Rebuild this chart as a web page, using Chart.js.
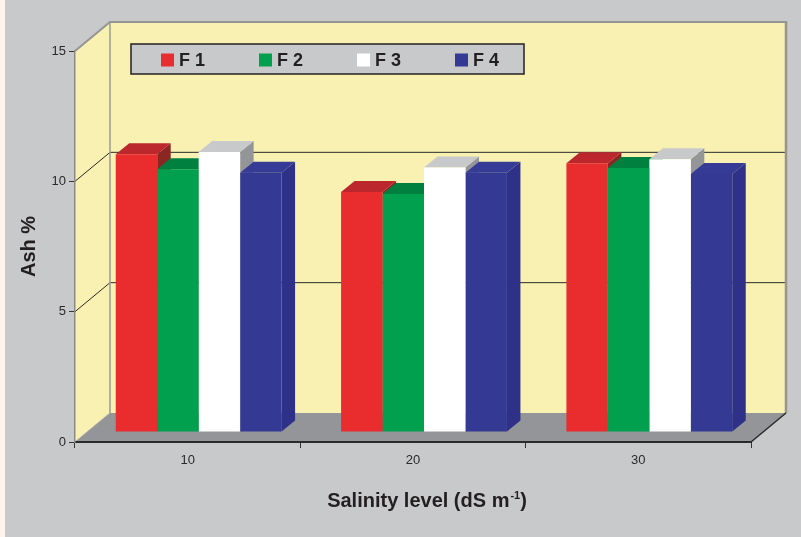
<!DOCTYPE html>
<html lang="en">
  <head>
    <meta charset="UTF-8" />
    <title>Ash %</title>
    <script src="https://cdn.jsdelivr.net/npm/chart.js"></script>
    <style>
      body { margin: 0; background: #c8c9cb; }
      canvas { display: block; }
    </style>
  </head>
  <body>
    <canvas id="ashChart" width="801" height="537"></canvas>
    <script>
      // salinity levels (dS m-1) and ash % per treatment
      var salinity = ["10", "20", "30"];
      var seriesNames = ["F 1", "F 2", "F 3", "F 4"];
      var f1 = [10.66, 9.21, 10.31];
      var f2 = [10.08, 9.13, 10.13];
      var f3 = [10.74, 10.15, 10.46];
      var f4 = [9.95, 9.95, 9.9];
      var yTicks = [0, 5, 10, 15];

      // front / top / side shades of each column
      var shades = [
        { front: "#e92d2f", top: "#bb272c", side: "#8b2723" },
        { front: "#00a04e", top: "#00803f", side: "#006934" },
        { front: "#ffffff", top: "#c8c9cb", side: "#939598" },
        { front: "#343a94", top: "#363c96", side: "#2f3189" },
      ];

      var FONT = "'Liberation Sans', Arial, Helvetica, sans-serif";
      var DEPTH_X = 35, DEPTH_Y = 29; // floor and side wall depth
      var BAR_X = 11, BAR_Y = 10;     // columns stand a bit back on the floor
      var CAP_X = 13.5, CAP_Y = 11;   // column depth

      function poly(ctx, pts, fill) {
        ctx.beginPath();
        ctx.moveTo(pts[0][0], pts[0][1]);
        for (var i = 1; i < pts.length; i++) ctx.lineTo(pts[i][0], pts[i][1]);
        ctx.closePath();
        ctx.fillStyle = fill;
        ctx.fill();
      }

      function line(ctx, pts, color, width) {
        ctx.beginPath();
        ctx.moveTo(pts[0][0], pts[0][1]);
        for (var i = 1; i < pts.length; i++) ctx.lineTo(pts[i][0], pts[i][1]);
        ctx.strokeStyle = color;
        ctx.lineWidth = width;
        ctx.stroke();
      }

      // background, walls, floor and wall grid lines
      var walls = {
        id: "walls",
        beforeDraw: function (chart) {
          var ctx = chart.ctx, a = chart.chartArea, y = chart.scales.y;
          var bl = a.left + DEPTH_X, br = a.right + DEPTH_X;
          var bt = a.top - DEPTH_Y, bb = a.bottom - DEPTH_Y;
          ctx.save();
          ctx.fillStyle = "#c8c9cb";
          ctx.fillRect(0, 0, chart.width, chart.height);
          ctx.fillStyle = "#fdf5eb";
          ctx.fillRect(0, 0, 5, chart.height);

          poly(ctx, [[bl, bt], [br, bt], [br, bb], [bl, bb]], "#f8f1b1");
          poly(ctx, [[a.left, a.bottom], [a.left, a.top], [bl, bt], [bl, bb]], "#f8f1b1");
          poly(ctx, [[a.left, a.bottom], [a.right, a.bottom], [br, bb], [bl, bb]], "#939598");

          yTicks.forEach(function (v) {
            if (v <= y.min || v >= y.max) return;
            var py = y.getPixelForValue(v);
            line(ctx, [[a.left, py], [bl, py - DEPTH_Y], [br, py - DEPTH_Y]], "#2a2a2a", 1);
          });

          line(ctx, [[a.left, a.top], [bl, bt], [br, bt]], "#959595", 2);
          line(ctx, [[bl, bt], [bl, bb]], "#9a9a9a", 1.5);
          line(ctx, [[br, bt - 1], [br, bb]], "#959595", 2.5);
          line(ctx, [[a.left, a.bottom], [bl, bb]], "#a8a8a0", 1);
          line(ctx, [[a.right, a.bottom], [br, bb]], "#2a2a2a", 1.5);
          ctx.restore();
        },
      };

      // tops and sides of the columns; the library draws the fronts
      var columns = {
        id: "columns",
        beforeDatasetsDraw: function (chart) {
          var ctx = chart.ctx;
          ctx.save();
          ctx.translate(BAR_X, -BAR_Y);
          var metas = chart.data.datasets.map(function (d, i) {
            return chart.getDatasetMeta(i);
          });
          for (var j = 0; j < salinity.length; j++) {
            metas.forEach(function (meta, i) {
              var p = meta.data[j].getProps(["x", "y", "base", "width"], true);
              var l = p.x - p.width / 2, r = p.x + p.width / 2;
              poly(ctx, [[r, p.y], [r + CAP_X, p.y - CAP_Y], [r + CAP_X, p.base - CAP_Y], [r, p.base]], shades[i].side);
              poly(ctx, [[l, p.y], [r, p.y], [r + CAP_X, p.y - CAP_Y], [l + CAP_X, p.y - CAP_Y]], shades[i].top);
            });
          }
        },
        afterDatasetsDraw: function (chart) {
          chart.ctx.restore();
        },
      };

      // boxed legend on the back wall and the x axis title
      var extras = {
        id: "extras",
        afterDraw: function (chart) {
          var ctx = chart.ctx;
          ctx.save();
          ctx.fillStyle = "#c8c9cb";
          ctx.fillRect(131, 44, 393, 30);
          ctx.strokeStyle = "#231f20";
          ctx.lineWidth = 1.5;
          ctx.strokeRect(131, 44, 393, 30);
          ctx.font = "bold 18px " + FONT;
          ctx.textBaseline = "alphabetic";
          chart.data.datasets.forEach(function (ds, i) {
            var x = 161 + i * 98;
            ctx.fillStyle = ds.backgroundColor;
            ctx.fillRect(x, 53.5, 13, 13);
            ctx.fillStyle = "#231f20";
            ctx.fillText(ds.label, x + 18, 66);
          });

          var main = "Salinity level (dS m", sup = "-1", end = ")";
          ctx.font = "bold 20px " + FONT;
          var w1 = ctx.measureText(main).width, w3 = ctx.measureText(end).width;
          ctx.font = "bold 11px " + FONT;
          var w2 = ctx.measureText(sup).width;
          var x0 = 427 - (w1 + w2 + w3 + 1) / 2, base = 507;
          ctx.fillStyle = "#231f20";
          ctx.font = "bold 20px " + FONT;
          ctx.fillText(main, x0, base);
          ctx.font = "bold 11px " + FONT;
          ctx.fillText(sup, x0 + w1 + 1, base - 8);
          ctx.font = "bold 20px " + FONT;
          ctx.fillText(end, x0 + w1 + w2 + 1, base);
          ctx.restore();
        },
      };

      var values = [f1, f2, f3, f4];
      var ctx = document.getElementById("ashChart").getContext("2d");
      var ashChart = new Chart(ctx, {
        type: "bar",
        data: {
          labels: salinity,
          datasets: seriesNames.map(function (name, i) {
            return {
              label: name,
              data: values[i],
              backgroundColor: shades[i].front,
              borderWidth: 0,
              clip: false,
              categoryPercentage: 0.736,
              barPercentage: 1,
            };
          }),
        },
        options: {
          responsive: false,
          animation: false,
          layout: { padding: { left: 0, top: 51, right: 50, bottom: 0 } },
          plugins: { legend: { display: false }, tooltip: { enabled: false } },
          scales: {
            x: {
              afterFit: function (scale) { scale.height = 95; },
              grid: { drawOnChartArea: false, tickLength: 6, color: "#333", offset: true },
              border: { color: "#2a2a2a", width: 2 },
              ticks: { color: "#2a2a2a", padding: 5, font: { size: 13, family: FONT } },
            },
            y: {
              min: 0,
              max: 15,
              afterFit: function (scale) { scale.width = 75; },
              afterBuildTicks: function (scale) {
                scale.ticks = yTicks.map(function (v) { return { value: v }; });
              },
              grid: { drawOnChartArea: false, tickLength: 6, color: "#333" },
              border: { color: "#8a8a8a", width: 1.5 },
              ticks: { color: "#2a2a2a", padding: 3, font: { size: 13, family: FONT } },
              title: {
                display: true,
                text: "Ash %",
                color: "#231f20",
                font: { size: 20, weight: "bold", family: FONT },
                padding: { top: 17, bottom: 0 },
              },
            },
          },
        },
        plugins: [walls, columns, extras],
      });
    </script>
  </body>
</html>
